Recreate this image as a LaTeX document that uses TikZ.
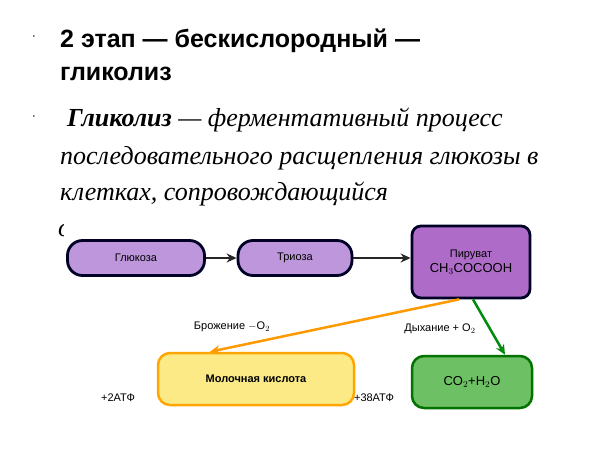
\documentclass[tikz,border=0pt]{standalone}
\usepackage{fontspec}
\setmainfont{Liberation Serif}
\newfontfamily\ls{Liberation Sans}
\usetikzlibrary{arrows.meta}
\definecolor{lav}{HTML}{BE96DC}
\definecolor{pur}{HTML}{AE6CC8}
\definecolor{yel}{HTML}{FBEA86}
\definecolor{grn}{HTML}{6EC064}
\begin{document}
\begin{tikzpicture}[x=1pt,y=-1pt,
  pill/.style={draw=black!85!blue,line width=2.8pt,rounded corners=15pt,fill=lav,font=\ls\fontsize{11}{12}\selectfont,inner sep=0pt},
  lbl/.style={font=\ls\fontsize{11}{12}\selectfont,inner sep=0pt},
  ttl/.style={anchor=base west,inner sep=0pt,font=\ls\bfseries\fontsize{25}{25}\selectfont},
  bod/.style={anchor=base west,inner sep=0pt,font=\itshape\fontsize{26}{26}\selectfont},
  arr/.style={line width=2.5pt,-{Stealth[length=10pt,width=9pt]}}]
\useasboundingbox (0,0) rectangle (600,450);
\fill[white] (0,0) rectangle (600,450);
\node[font=\ls\bfseries\fontsize{9}{9}\selectfont] (b1) at (34,38) {·};
\node[font=\ls\bfseries\fontsize{9}{9}\selectfont] (b2) at (34,118) {·};
\node[ttl] (t1) at (60,47) {2 этап — бескислородный —};
\node[ttl] (t1b) at (60,80) {гликолиз};
\node[bod] (t2) at (67,126) {\textbf{Гликолиз} — ферментативный процесс};
\node[bod] (t3) at (60,164) {последовательного расщепления глюкозы в};
\node[bod] (t4) at (60,200) {клетках, сопровождающийся};
\node[bod] (t5) at (58,236) {о};
\fill[white] (64,212) rectangle (560,420);
\node[pill,minimum width=137pt,minimum height=35pt] (g) at (136,258) {Глюкоза};
\node[pill,minimum width=114pt,minimum height=35pt] (tr) at (295,258) {Триоза};
\node[pill,rounded corners=9pt,fill=pur,minimum width=118pt,minimum height=72pt,align=center] (p) at (471,262) {Пируват\\[3pt]{\fontsize{13}{13}\selectfont CH$_3$COCOOH}};
\node[pill,draw=orange!70!yellow,fill=yel,line width=2.5pt,rounded corners=12pt,minimum width=196pt,minimum height=52pt,font=\ls\bfseries\fontsize{11}{12}\selectfont] (m) at (256,379) {Молочная кислота};
\node[pill,draw=green!45!black,fill=grn,line width=2.5pt,rounded corners=12pt,minimum width=120pt,minimum height=52pt] (c) at (472,382) {{\fontsize{13}{13}\selectfont CO$_2$+H$_2$O}};
\draw[arr,black!85] (g) -- (tr);
\draw[arr,black!85] (tr.east) -- (p.west|-tr.east);
\draw[arr,orange!80!yellow] ([xshift=-12pt]p.south) coordinate (o1) -- ([xshift=-46pt]m.north);
\draw[arr,green!55!black!90!teal] ([xshift=2pt]p.south) coordinate (o2) -- ([xshift=33pt]c.north);
\node[lbl] (l1) at (232,327) {Брожение $-$O$_2$};
\node[lbl] (l2) at (440,329) {Дыхание + O$_2$};
\node[lbl] (a1) at (118,398) {+2АТФ};
\node[lbl] (a2) at (374,398) {+38АТФ};
\end{tikzpicture}
\end{document}
